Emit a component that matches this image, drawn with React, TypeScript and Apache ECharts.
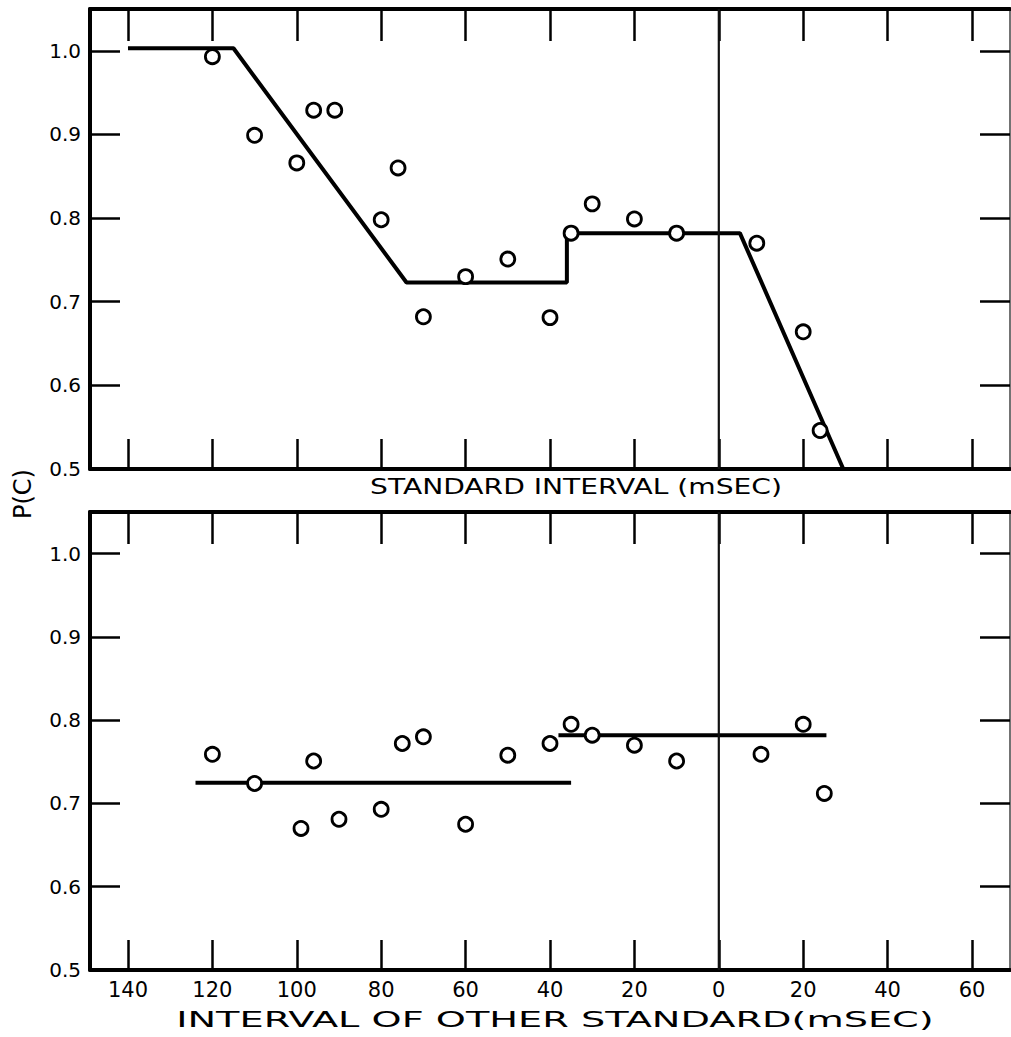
import React, { useEffect, useRef } from "react";
import * as echarts from "echarts";

// Axis tick values
const xTickValues = [-140, -120, -100, -80, -60, -40, -20, 0, 20, 40, 60];
const yTickValues = [0.5, 0.6, 0.7, 0.8, 0.9, 1.0];

// Top panel: STANDARD INTERVAL
const topPointX = [-120, -110, -100, -96, -91, -80, -76, -70, -60, -50, -40, -35, -30, -20, -10, 9, 20, 24];
const topPointY = [0.993, 0.899, 0.866, 0.929, 0.929, 0.798, 0.86, 0.682, 0.73, 0.751, 0.681, 0.782, 0.817, 0.799, 0.782, 0.77, 0.664, 0.546];
const topFitX = [-140, -115, -74, -36, -36, 5, 29.5];
const topFitY = [1.003, 1.003, 0.723, 0.723, 0.782, 0.782, 0.5];

// Bottom panel: INTERVAL OF OTHER STANDARD
const botPointX = [-120, -110, -99, -96, -90, -80, -75, -70, -60, -50, -40, -35, -30, -20, -10, 10, 20, 25];
const botPointY = [0.759, 0.724, 0.67, 0.751, 0.681, 0.693, 0.772, 0.78, 0.675, 0.758, 0.772, 0.795, 0.782, 0.77, 0.751, 0.759, 0.795, 0.712];
const botFit1X = [-124, -35];
const botFit1Y = [0.725, 0.725];
const botFit2X = [-38, 25.5];
const botFit2Y = [0.782, 0.782];

// Vertical reference line at 0 msec
const zeroLineX = [0, 0];
const zeroLineY = [0.5, 1.05];

const FONT = "DejaVu Sans";
const X_MIN = -149;
const X_MAX = 69;
const Y_MIN = 0.5;
const Y_MAX = 1.05;

const pairs = (xs: number[], ys: number[]) => xs.map((x, i) => [x, ys[i]]);

function xAxisDef(gridIndex: number, position: "top" | "bottom", showLabels: boolean, tickLen: number) {
  return {
    type: "value",
    gridIndex,
    position,
    min: X_MIN,
    max: X_MAX,
    axisLine: { show: true, onZero: false, lineStyle: { color: "#000", width: 4 } },
    axisTick: {
      show: true,
      inside: true,
      length: tickLen,
      customValues: xTickValues,
      lineStyle: { color: "#000", width: 2.5 },
    },
    axisLabel: {
      show: showLabels,
      customValues: xTickValues,
      formatter: (v: number) => String(Math.abs(v)),
      color: "#000",
      fontFamily: FONT,
      fontSize: 21,
      margin: 9,
    },
    splitLine: { show: false },
  };
}

function yAxisDef(gridIndex: number, position: "left" | "right", showLabels: boolean) {
  return {
    type: "value",
    gridIndex,
    position,
    min: Y_MIN,
    max: Y_MAX,
    axisLine: {
      show: true,
      onZero: false,
      lineStyle: { color: position === "left" ? "#000" : "#444", width: position === "left" ? 4 : 1.5 },
    },
    axisTick: {
      show: true,
      inside: true,
      length: 30,
      customValues: yTickValues,
      lineStyle: { color: "#000", width: 2.5 },
    },
    axisLabel: {
      show: showLabels,
      customValues: yTickValues,
      formatter: (v: number) => v.toFixed(1),
      color: "#000",
      fontFamily: FONT,
      fontSize: 20,
      margin: 9,
    },
    splitLine: { show: false },
  };
}

const scatterStyle = {
  type: "scatter",
  symbol: "circle",
  symbolSize: 14,
  itemStyle: { color: "#fff", borderColor: "#000", borderWidth: 2.8, opacity: 1 },
  z: 5,
};

const fitStyle = {
  type: "line",
  showSymbol: false,
  symbol: "none",
  lineStyle: { color: "#000", width: 4 },
  z: 3,
};

const zeroStyle = {
  type: "line",
  showSymbol: false,
  symbol: "none",
  clip: false,
  lineStyle: { color: "#111", width: 2.2 },
  z: 20,
};

export default function App() {
  const ref = useRef<HTMLDivElement>(null);

  useEffect(() => {
    document.body.style.margin = "0";
    if (!ref.current) return;
    const chart = echarts.init(ref.current, undefined, { renderer: "svg" });
    chart.setOption({
      animation: false,
      backgroundColor: "#fff",
      grid: [
        { left: 90, right: 1, top: 9, height: 460 },
        { left: 90, right: 1, top: 512, height: 458 },
      ],
      xAxis: [
        xAxisDef(0, "bottom", false, 30),
        xAxisDef(0, "top", false, 32),
        xAxisDef(1, "bottom", true, 30),
        xAxisDef(1, "top", false, 32),
      ],
      yAxis: [
        yAxisDef(0, "left", true),
        yAxisDef(0, "right", false),
        yAxisDef(1, "left", true),
        yAxisDef(1, "right", false),
      ],
      series: [
        { ...zeroStyle, name: "top zero", xAxisIndex: 0, yAxisIndex: 0, data: pairs(zeroLineX, zeroLineY) },
        { ...fitStyle, name: "top fit", xAxisIndex: 0, yAxisIndex: 0, data: pairs(topFitX, topFitY) },
        { ...scatterStyle, name: "top data", xAxisIndex: 0, yAxisIndex: 0, data: pairs(topPointX, topPointY) },
        { ...zeroStyle, name: "bottom zero", xAxisIndex: 2, yAxisIndex: 2, data: pairs(zeroLineX, zeroLineY) },
        { ...fitStyle, name: "bottom fit 1", xAxisIndex: 2, yAxisIndex: 2, data: pairs(botFit1X, botFit1Y) },
        { ...fitStyle, name: "bottom fit 2", xAxisIndex: 2, yAxisIndex: 2, data: pairs(botFit2X, botFit2Y) },
        { ...scatterStyle, name: "bottom data", xAxisIndex: 2, yAxisIndex: 2, data: pairs(botPointX, botPointY) },
      ],
      graphic: [
        {
          type: "text",
          x: 576,
          y: 487,
          scaleX: 1.34,
          style: {
            text: "STANDARD INTERVAL (mSEC)",
            fontFamily: FONT,
            fontSize: 21,
            fill: "#000",
            textAlign: "center",
            textVerticalAlign: "middle",
          },
        },
        {
          type: "text",
          x: 555,
          y: 1019,
          scaleX: 1.74,
          style: {
            text: "INTERVAL OF OTHER STANDARD(mSEC)",
            fontFamily: FONT,
            fontSize: 22,
            fill: "#000",
            textAlign: "center",
            textVerticalAlign: "middle",
          },
        },
        {
          type: "text",
          x: 23,
          y: 494,
          rotation: Math.PI / 2,
          style: {
            text: "P(C)",
            fontFamily: FONT,
            fontSize: 24,
            fill: "#000",
            textAlign: "center",
            textVerticalAlign: "middle",
          },
        },
      ],
    });
    return () => chart.dispose();
  }, []);

  return <div ref={ref} style={{ width: 1011, height: 1037 }} />;
}
